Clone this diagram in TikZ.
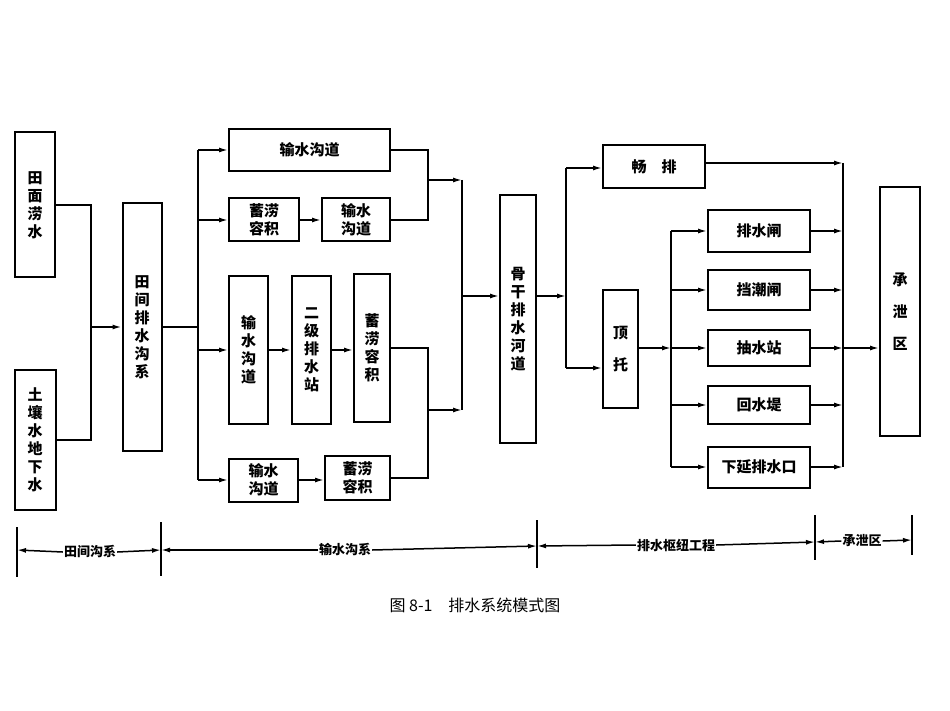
\documentclass[tikz,border=0pt]{standalone}
\usepackage{fontspec}
\setmainfont{Noto Sans CJK SC}
\usetikzlibrary{arrows.meta}
\begin{document}
\begin{tikzpicture}[x=1pt,y=-1pt,
  bx/.style={draw,line width=2pt,inner sep=0pt,align=center,font=\fontsize{15}{18}\selectfont\bfseries},
  ln/.style={line width=1.5pt},
  arr/.style={line width=1.5pt,-{Latex[length=9pt,width=5pt]}}]
\useasboundingbox (0,0) rectangle (950,711);
% left
\node[bx,minimum width=40,minimum height=145] (tm) at (35,205) {田\\面\\涝\\水};
\node[bx,minimum width=41,minimum height=140] (tr) at (35,440) {土\\壤\\水\\地\\下\\水};
\node[bx,minimum width=39,minimum height=247] (tj) at (142,327) {田\\间\\排\\水\\沟\\系};
\coordinate (j1) at (91,327);
\draw[ln] (tm.east) -| (j1) |- (tr.east);
\draw[arr] (j1) -- (tj.west);
% column 2
\coordinate (j2) at (198,327);
\draw[ln] (tj.east) -- (j2);
\node[bx,minimum width=161,minimum height=42] (a1) at (309.5,150) {输水沟道};
\node[bx,minimum width=70,minimum height=43] (b1) at (264,220) {蓄涝\\容积};
\node[bx,minimum width=68,minimum height=43] (b2) at (356,220) {输水\\沟道};
\node[bx,minimum width=39,minimum height=148] (c1) at (248.5,350) {输\\水\\沟\\道};
\node[bx,minimum width=39,minimum height=148] (c2) at (311.5,350) {二\\级\\排\\水\\站};
\node[bx,minimum width=36,minimum height=148] (c3) at (372,348) {蓄\\涝\\容\\积};
\node[bx,minimum width=69,minimum height=43] (d1) at (263.5,480) {输水\\沟道};
\node[bx,minimum width=65,minimum height=44] (d2) at (357.5,478) {蓄涝\\容积};
\draw[ln] (198,150) -- (198,480);
\draw[arr] (198,150) -- (a1.west);
\draw[arr] (198,220) -- (b1.west);
\draw[arr] (198,350) -- (c1.west);
\draw[arr] (198,480) -- (d1.west);
\draw[arr] (b1) -- (b2);
\draw[arr] (c1) -- (c2);
\draw[arr] (c2.east) -- (c3.west |- c2.east);
\draw[arr] (d1.east) -- (d2.west |- d1.east);
\coordinate (k1) at (428,180);
\coordinate (k2) at (428,410);
\draw[ln] (a1.east) -| (k1) |- (b2.east);
\draw[ln] (c3.east) -| (k2) |- (d2.east);
\coordinate (j3) at (462,296);
\draw[arr] (k1) -- (462,180);
\draw[arr] (k2) -- (462,410);
\draw[ln] (462,180) -- (462,410);
\node[bx,minimum width=36,minimum height=248] (gg) at (518,319) {骨\\干\\排\\水\\河\\道};
\draw[arr] (j3) -- (gg.west |- j3);
% column 3
\node[bx,minimum width=102,minimum height=43] (cp) at (654,166.5) {畅\quad 排};
\node[bx,minimum width=35,minimum height=118] (dt) at (620.5,349) {顶\\[14pt]托};
\coordinate (j4) at (566,296);
\draw[arr] (gg.east |- j4) -- (j4);
\draw[ln] (566,168) -- (566,368);
\draw[arr] (566,168) -- (cp.west |- 566,168);
\draw[arr] (566,368) -- (dt.west |- 566,368);
\node[bx,minimum width=102,minimum height=42] (e1) at (759,231) {排水闸};
\node[bx,minimum width=102,minimum height=39] (e2) at (759,290) {挡潮闸};
\node[bx,minimum width=102,minimum height=36] (e3) at (759,348) {抽水站};
\node[bx,minimum width=102,minimum height=38] (e4) at (759,405) {回水堤};
\node[bx,minimum width=102,minimum height=41] (e5) at (759,467) {下延排水口};
\coordinate (j5) at (671,348);
\draw[arr] (dt.east |- j5) -- (j5);
\draw[ln] (671,231) -- (671,467);
\foreach \e in {e1,e2,e3,e4,e5}{
  \draw[arr] (671,0 |- \e.west) -- (\e.west);
  \draw[arr] (\e.east) -- (843,0 |- \e.east);
}
\draw[arr] (cp.east |- 0,163) -- (843,163);
\draw[ln] (843,163) -- (843,467);
\node[bx,minimum width=40,minimum height=249] (cx) at (900,311.5) {承\\[14pt]泄\\[14pt]区};
\draw[arr] (843,348) -- (cx.west |- 843,348);
% scale
\tikzset{lb/.style={fill=white,inner sep=1pt,font=\fontsize{13}{15}\selectfont\bfseries}}
\coordinate (t0) at (17,550); \coordinate (t1) at (161,550);
\coordinate (t2) at (537,546); \coordinate (t3) at (815,542); \coordinate (t4) at (912,540);
\draw[line width=1.2pt] (17,527) -- (17,577) (161,522) -- (161,576) (537,520) -- (537,568) (815,515) -- (815,560) (912,515) -- (912,555);
\node[lb] (s1) at (90,552) {田间沟系};
\node[lb] (s2) at (345,550) {输水沟系};
\node[lb] (s3) at (676,545) {排水枢纽工程};
\node[lb] (s4) at (862,541) {承泄区};
\draw[arr] (s1.west) -- (t0); \draw[arr] (s1.east) -- (t1);
\draw[arr] (s2.west) -- (t1); \draw[arr] (s2.east) -- (t2);
\draw[arr] (s3.west) -- (t2); \draw[arr] (s3.east) -- (t3);
\draw[arr] (s4.west) -- (t3); \draw[arr] (s4.east) -- (t4);
\node[font=\fontsize{16}{19}\selectfont] (cap) at (475,605) {图\ 8-1\quad 排水系统模式图};
\end{tikzpicture}
\end{document}
